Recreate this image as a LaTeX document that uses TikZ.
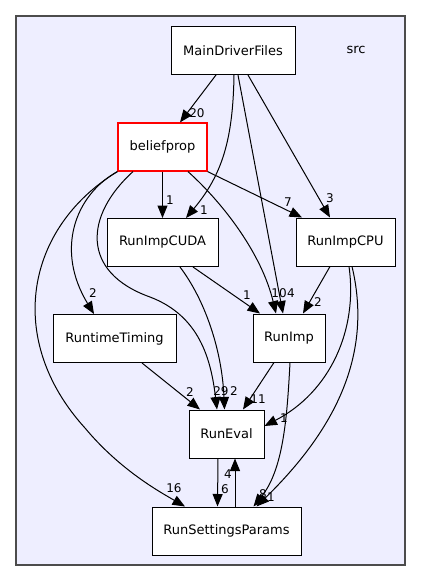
\documentclass[tikz,border=0pt]{standalone}
\usepackage{fontspec}
\setmainfont{DejaVu Sans}
\usetikzlibrary{arrows.meta}
\definecolor{srcbg}{RGB}{238,238,255}
\begin{document}
\begin{tikzpicture}[x=1pt,y=-1pt,
  folder/.style={draw=black,fill=white,line width=1pt,minimum height=48pt,inner sep=0pt,font=\fontsize{13}{15}\selectfont},
  dep/.style={->,>={Triangle[length=12.5pt,width=10pt]},line width=1pt},
  num/.style={inner sep=0pt,font=\fontsize{12}{13}\selectfont}]
\useasboundingbox (0,0) rectangle (421,581);
\draw[fill=srcbg,draw=black!70,line width=1.2pt] (16,16) rectangle (405,565);
\node[font=\fontsize{13}{15}\selectfont] (src) at (356,50) {src};
\foreach \n/\x/\y/\w/\t in {main/233/50.5/124/MainDriverFiles, cuda/162.5/242.5/111/RunImpCUDA,
  cpu/345.5/242/99/RunImpCPU, timing/114.5/338.5/123/RuntimeTiming, imp/289/338/72/RunImp,
  eval/226.5/434/75/RunEval, settings/226.5/531/149/RunSettingsParams}
{
    \node[folder,minimum width=\w pt] (\n) at (\x,\y) {\t};
}
\node[folder,draw=red,line width=1.2pt,minimum width=89pt] (bp) at (162.5,147) {beliefprop};

\draw[dep] ([xshift=-17pt]main.south) -- ([xshift=17.5pt]bp.north);
\draw[dep] ([xshift=1pt]main.south) .. controls (233,140) and (222,175) .. ([xshift=23.5pt]cuda.north);
\draw[dep] ([xshift=5pt]main.south) -- ([xshift=-6pt]imp.north);
\draw[dep] ([xshift=15pt]main.south) -- ([xshift=-15.5pt]cpu.north);
\draw[dep] (bp) -- (cuda);
\draw[dep] (bp.south east) -- ([xshift=-43.5pt]cpu.north);
\draw[dep] ([xshift=25.5pt]bp.south) .. controls (225,205) and (262,255) .. ([xshift=-13pt]imp.north);
\draw[dep] (bp.south west) .. controls (75,195) and (55,250) .. ([xshift=-20.5pt]timing.north);
\draw[dep] ([xshift=-29.5pt]bp.south) .. controls (85,215) and (80,272) .. (150,297) .. controls (200,316) and (211,360) .. ([xshift=-9.5pt]eval.north);
\draw[dep] (bp.south west) .. controls (25,228) and (5,340) .. (85,428) .. controls (120,470) and (160,492) .. ([xshift=-41.5pt]settings.north);
\draw[dep] ([xshift=30.5pt]cuda.south) -- ([xshift=-29pt]imp.north);
\draw[dep] ([xshift=17.5pt]cuda.south) .. controls (205,300) and (222,350) .. ([xshift=-2pt]eval.north);
\draw[dep] ([xshift=-15.5pt]cpu.south) -- ([xshift=14pt]imp.north);
\draw[dep] ([xshift=3.5pt]cpu.south) .. controls (358,330) and (330,392) .. ([yshift=8pt]eval.east);
\draw[dep] ([xshift=6.5pt]cpu.south) .. controls (372,350) and (340,425) .. ([xshift=30pt]settings.north);
\draw[dep] ([xshift=-15pt]imp.south) -- ([xshift=16.5pt]eval.north);
\draw[dep] ([xshift=1pt]imp.south) .. controls (287,420) and (283,470) .. ([xshift=27pt]settings.north);
\draw[dep] ([xshift=27.5pt]timing.south) -- ([xshift=-26.5pt]eval.north);
\draw[dep] ([xshift=-8.5pt]eval.south) -- ([xshift=-9pt]settings.north);
\draw[dep] ([xshift=8.5pt]settings.north) -- ([xshift=8.5pt]eval.south);

\foreach \x/\y/\t [count=\i] in {197/113/20, 204/210/1, 291/293/4, 330/198/3, 170/200/1,
  288/202/7, 279/293/10, 93/293/2, 221/391/29, 174/488/16, 247/295/1, 234/391/2,
  284/418/1, 271/497/1, 258/399/11, 263/494/8, 190/392/2, 225/489/6, 228/474/4, 318/302/2}
{
    \node[num] (lab\i) at (\x,\y) {\t};
}
\end{tikzpicture}
\end{document}
